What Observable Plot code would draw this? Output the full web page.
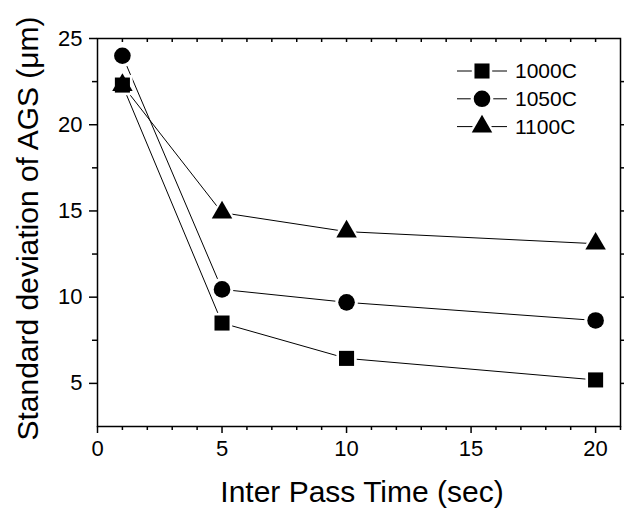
<!DOCTYPE html>
<html><head><meta charset="utf-8">
<script src="https://cdn.jsdelivr.net/npm/d3@7"></script>
<script src="https://cdn.jsdelivr.net/npm/@observablehq/plot@0.6"></script>
<style>
body{margin:0;background:#fff;}
#wrap{position:relative;width:624px;height:512px;font-family:"Liberation Sans",Arial,sans-serif;}
#legend{position:absolute;left:0;top:0;pointer-events:none;}
</style></head><body><div id="wrap"></div>
<script>
const times = [1, 5, 10, 20];
const seriesNames = ["1000C", "1050C", "1100C"];
const values1000 = [22.3, 8.5, 6.45, 5.2];
const values1050 = [24.0, 10.45, 9.7, 8.65];
const values1100 = [22.3, 14.9, 13.8, 13.1];
const seriesSymbols = ["square", "circle", "triangle"];
const xTicksMajor = [0, 5, 10, 15, 20];
const xTicksMinor = [1, 2, 3, 4, 6, 7, 8, 9, 11, 12, 13, 14, 16, 17, 18, 19, 21];
const xTicksTop = [1, 2, 3, 4, 5, 6, 7, 8, 9, 10, 11, 12, 13, 14, 15, 16, 17, 18, 19, 20];
const yTicksMajor = [5, 10, 15, 20, 25];
const yTicksMinor = [7.5, 12.5, 17.5, 22.5];
const yTicksRight = [5, 7.5, 10, 12.5, 15, 17.5, 20, 22.5];
const xTitle = "Inter Pass Time (sec)";
const yTitle = "Standard deviation of AGS (\u03bcm)";

const allValues = [values1000, values1050, values1100];
const rows = seriesNames.flatMap((s, i) => times.map((t, j) => ({series: s, time: t, value: allValues[i][j]})));

const symbolR = {square: 8.5, circle: 8.3, triangle: 7.6};
const W = 624, H = 512, mT = 38, mB = 86, mL = 97, mR = 4;
const innerH = H - mT - mB;
const font = "'Liberation Sans', Arial, sans-serif";

const marks = [
  Plot.line(rows, {x: "time", y: "value", z: "series", stroke: "black", strokeWidth: 1}),
];
seriesNames.forEach((s, i) => {
  const sub = rows.filter(d => d.series === s);
  marks.push(Plot.dot(sub, {x: "time", y: "value", symbol: seriesSymbols[i], r: symbolR[seriesSymbols[i]] + 3, fill: "white", stroke: "none"}));
});
seriesNames.forEach((s, i) => {
  const sub = rows.filter(d => d.series === s);
  marks.push(Plot.dot(sub, {x: "time", y: "value", symbol: seriesSymbols[i], r: symbolR[seriesSymbols[i]], fill: "black", stroke: "none"}));
});

marks.push(
  Plot.frame({stroke: "black", strokeWidth: 1.5}),
  Plot.axisX(xTicksMajor, {anchor: "bottom", tickSize: 7, tickPadding: 7, strokeWidth: 1.5, fontSize: 22, label: null}),
  Plot.axisX(xTicksMinor, {anchor: "bottom", tickSize: 4, strokeWidth: 1.5, text: null, label: null}),
  Plot.tickX(xTicksTop, {x: d => d, insetBottom: innerH - 4, stroke: "black", strokeWidth: 1.5}),
  Plot.axisY(yTicksMajor, {anchor: "left", tickSize: 8, tickPadding: 7, strokeWidth: 1.5, fontSize: 22, label: null}),
  Plot.axisY(yTicksMinor, {anchor: "left", tickSize: 5, strokeWidth: 1.5, text: null, label: null}),
  Plot.axisY(yTicksRight, {anchor: "right", tickSize: 3, strokeWidth: 1.5, text: null, label: null}),
  Plot.text([xTitle], {text: d => d, frameAnchor: "bottom", lineAnchor: "middle", textAnchor: "middle", dx: 3, dy: 66, fontSize: 30, fill: "black"}),
  Plot.text([yTitle], {text: d => d, frameAnchor: "left", lineAnchor: "middle", textAnchor: "middle", rotate: -90, dx: -69, dy: -4, fontSize: 30, fill: "black"})
);

const chart = Plot.plot({
  width: W, height: H,
  marginTop: mT, marginBottom: mB, marginLeft: mL, marginRight: mR,
  x: {domain: [0, 21]},
  y: {domain: [2.5, 25]},
  style: {fontFamily: font, color: "black", background: "white", overflow: "visible"},
  marks
});
const wrap = document.getElementById("wrap");
wrap.appendChild(chart);

// Legend overlay
const lg = d3.select(wrap).append("svg").attr("id", "legend").attr("width", W).attr("height", H);
const legX0 = 457, legX1 = 507, legMX = 482, legTX = 515, legY0 = 71, legDY = 27.8;
seriesNames.forEach((s, i) => {
  const y = legY0 + i * legDY;
  const sym = {square: d3.symbolSquare, circle: d3.symbolCircle, triangle: d3.symbolTriangle}[seriesSymbols[i]];
  const r = symbolR[seriesSymbols[i]];
  const g = lg.append("g");
  g.append("line").attr("x1", legX0).attr("x2", legX1).attr("y1", y).attr("y2", y).attr("stroke", "black").attr("stroke-width", 1);
  g.append("path").attr("transform", `translate(${legMX},${y})`).attr("d", d3.symbol(sym, Math.PI * (r + 3) ** 2)()).attr("fill", "white");
  g.append("path").attr("transform", `translate(${legMX},${y})`).attr("d", d3.symbol(sym, Math.PI * r * r)()).attr("fill", "black");
  g.append("text").attr("x", legTX).attr("y", y).attr("dy", "0.35em").attr("font-size", 21).attr("font-family", font).attr("fill", "black").text(s);
});
</script></body></html>
